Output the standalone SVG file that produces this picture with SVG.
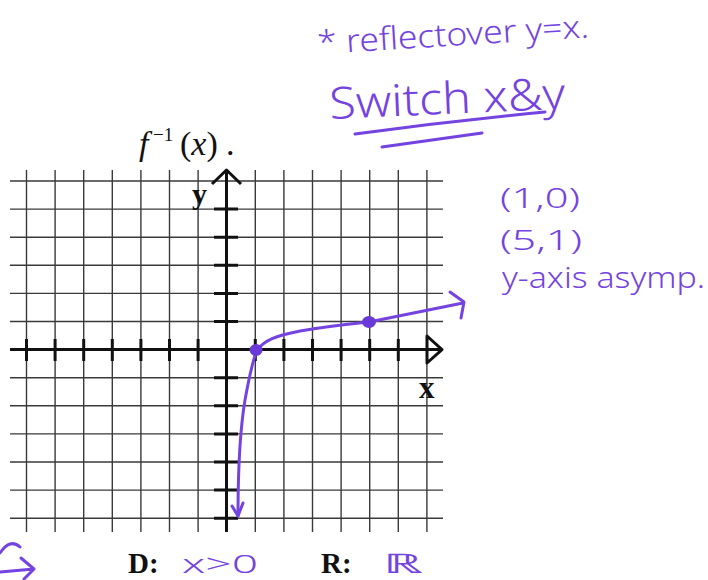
<svg xmlns="http://www.w3.org/2000/svg" width="708" height="580" viewBox="0 0 708 580">
<style>
.grid{fill:none;stroke:#3a3a3a;stroke-width:1.4}
.axis{fill:none;stroke:#111;stroke-width:3;stroke-linejoin:round}
.tick{fill:none;stroke:#111;stroke-width:3}
.ink{fill:none;stroke:#7443e0;stroke-width:3;stroke-linecap:round;stroke-linejoin:round}
.hand{fill:#7443e0;font-family:"Noto Sans","DejaVu Sans",sans-serif;font-weight:300}
.print{fill:#111;font-family:"Liberation Serif","Times New Roman",serif}
</style>
<rect width="708" height="580" fill="#fff"/>
<g id="grid">
<path class="grid" d="M10,181H443M10,209.1H443M10,237.2H443M10,265.3H443M10,293.4H443M10,321.5H443M10,377.7H443M10,405.8H443M10,433.9H443M10,462H443M10,490.1H443M10,518.2H443
M26.5,170V532M55.1,170V532M83.7,170V532M112.3,170V532M140.9,170V532M169.5,170V532M198.1,170V532M255.3,170V532M283.9,170V532M312.5,170V532M341.1,170V532M369.7,170V532M398.3,170V532M426.9,170V532"/>
</g>
<g id="axes">
<path class="axis" d="M10,349.6H441M427,336L442,349.6L427,363Z"/>
<path class="axis" d="M226.5,172V532M212,184L226.5,170L241,184"/>
<path class="tick" d="M26.5,339V361M55.1,339V361M83.7,339V361M112.3,339V361M140.9,339V361M169.5,339V361M198.1,339V361M255.3,339V361M283.9,339V361M312.5,339V361M341.1,339V361M369.7,339V361M398.3,339V361
M214,209.1H238M214,237.2H238M214,265.3H238M214,293.4H238M214,321.5H238M214,377.7H238M214,405.8H238M214,433.9H238M214,462H238M214,490.1H238M214,518.2H238"/>
<text class="print" x="192" y="204" font-size="30" font-weight="bold">y</text>
<text class="print" x="419" y="398" font-size="31" font-weight="bold">x</text>
</g>
<g id="title">
<text class="print" x="139" y="155" font-size="34" font-style="italic">f<tspan x="153" dy="-14" font-size="19" font-style="normal">−1</tspan><tspan x="180" dy="14" font-style="normal">(</tspan><tspan>x</tspan><tspan font-style="normal">)</tspan><tspan x="226" font-style="normal">.</tspan></text>
</g>
<g id="connectors">
<path class="ink" d="M238,516C238,470 240,430 245,400C249,378 252,362 257,350C265,340 275,336 300,331C330,326 350,324 369,322L463,303"/>
<path class="ink" d="M450,292L464,302L461,318"/>
<path class="ink" d="M232,506L238,516L243,503"/>
<path class="ink" d="M355,134Q450,121 545,112"/>
<path class="ink" d="M382,147L482,133"/>
<path class="ink" d="M0,553Q10,538 20,547"/>
<path class="ink" d="M0,572L34,569M21,558L34,569L24,579"/>
</g>
<g id="points">
<ellipse cx="256" cy="350" rx="6.5" ry="6" fill="#6a3ad8"/>
<ellipse cx="369" cy="322" rx="7" ry="6" fill="#6a3ad8"/>
</g>
<g id="notes">
<text class="hand" x="318" y="54" font-size="32" textLength="272" lengthAdjust="spacingAndGlyphs" transform="rotate(-3.5 318 54)">* reflectover y=x.</text>
<text class="hand" x="330" y="119" font-size="44" textLength="236" lengthAdjust="spacingAndGlyphs" transform="rotate(-2.5 330 119)">Switch x&amp;y</text>
<text class="hand" x="500" y="208" font-size="28" textLength="80" lengthAdjust="spacingAndGlyphs">(1,0)</text>
<text class="hand" x="500" y="250" font-size="28" textLength="82" lengthAdjust="spacingAndGlyphs">(5,1)</text>
<text class="hand" x="502" y="288" font-size="30" textLength="203" lengthAdjust="spacingAndGlyphs">y-axis asymp.</text>
</g>
<g id="footer">
<text class="print" x="128" y="573" font-size="29" font-weight="bold">D:</text>
<text class="hand" x="182" y="573" font-size="26" textLength="76" lengthAdjust="spacingAndGlyphs">x&gt;0</text>
<text class="print" x="321" y="573" font-size="29" font-weight="bold">R:</text>
<text class="hand" x="383" y="573" font-size="27" textLength="40" lengthAdjust="spacingAndGlyphs">ℝ</text>
</g>
</svg>
